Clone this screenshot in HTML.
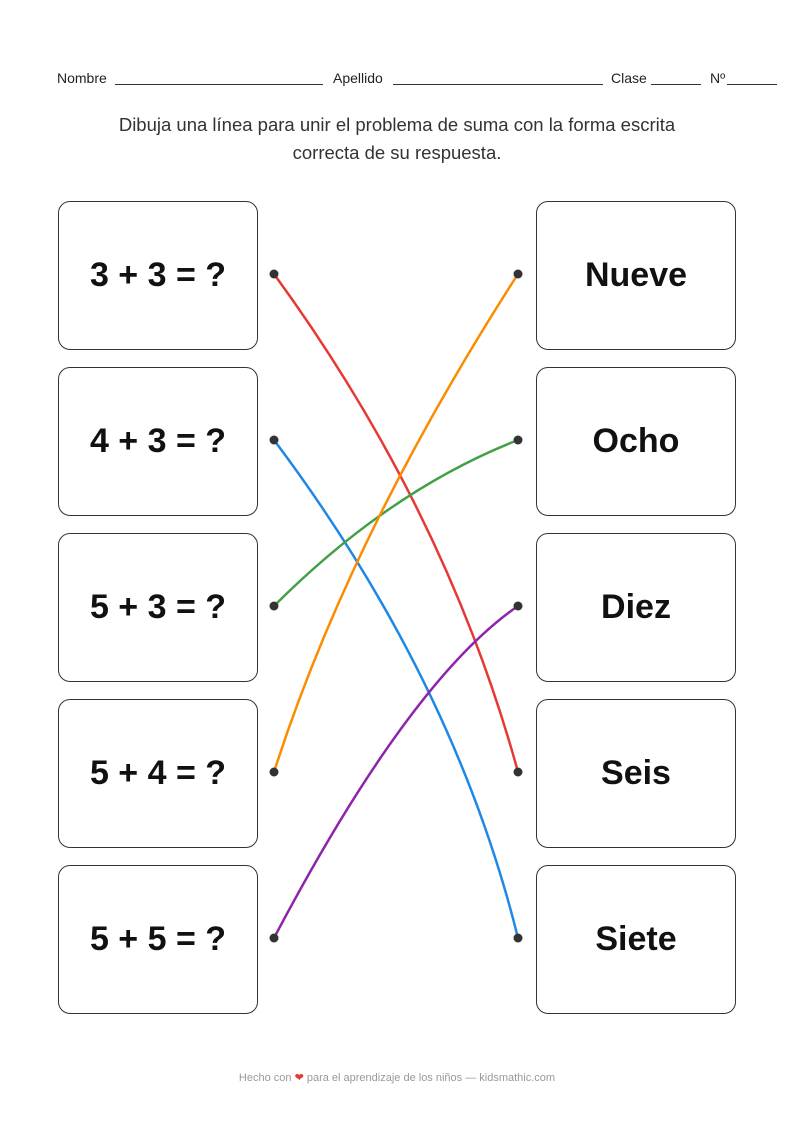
<!DOCTYPE html>
<html><head><meta charset="utf-8"><style>
body{margin:0;width:794px;height:1123px;background:#fff;position:relative;font-family:"Liberation Sans","DejaVu Sans",sans-serif;overflow:hidden}
.t{position:absolute;font-size:14px;color:#222;top:70px}
.ln{position:absolute;border-bottom:1px solid #333;top:84px;height:0}
.ins{position:absolute;top:111px;left:0;width:794px;text-align:center;font-size:18.5px;line-height:28px;color:#333}
.box{position:absolute;width:200px;height:149px;border:1.5px solid #333;border-radius:12px;box-sizing:border-box;display:flex;align-items:center;justify-content:center;font-weight:bold;font-size:34px;color:#111}
.foot{position:absolute;top:1071px;left:0;width:794px;text-align:center;font-size:11px;color:#999}
</style></head><body>
<div class="t" style="left:57px">Nombre</div><div class="ln" style="left:115px;width:208px"></div>
<div class="t" style="left:333px">Apellido</div><div class="ln" style="left:393px;width:210px"></div>
<div class="t" style="left:611px">Clase</div><div class="ln" style="left:651px;width:50px"></div>
<div class="t" style="left:710px">Nº</div><div class="ln" style="left:727px;width:50px"></div>
<div class="ins">Dibuja una línea para unir el problema de suma con la forma escrita<br>correcta de su respuesta.</div>
<div class="box" style="left:58px;top:201px">3 + 3 = ?</div>
<div class="box" style="left:58px;top:367px">4 + 3 = ?</div>
<div class="box" style="left:58px;top:533px">5 + 3 = ?</div>
<div class="box" style="left:58px;top:699px">5 + 4 = ?</div>
<div class="box" style="left:58px;top:865px">5 + 5 = ?</div>
<div class="box" style="left:536px;top:201px">Nueve</div>
<div class="box" style="left:536px;top:367px">Ocho</div>
<div class="box" style="left:536px;top:533px">Diez</div>
<div class="box" style="left:536px;top:699px">Seis</div>
<div class="box" style="left:536px;top:865px">Siete</div>
<svg style="position:absolute;left:0;top:0" width="794" height="1123" fill="none" stroke-width="2.5">
<path d="M274 274 Q446 510 518 772" stroke="#e53935"/>
<path d="M274 440 Q454 680 518 938" stroke="#1e88e5"/>
<path d="M274 606 Q390 490 518 440" stroke="#43a047"/>
<path d="M274 772 Q350 535 518 274" stroke="#fb8c00"/>
<path d="M274 938 Q410 680 518 606" stroke="#8e24aa"/>
<g fill="#333" stroke="none">
<circle cx="274" cy="274" r="4.5"/><circle cx="274" cy="440" r="4.5"/><circle cx="274" cy="606" r="4.5"/><circle cx="274" cy="772" r="4.5"/><circle cx="274" cy="938" r="4.5"/>
<circle cx="518" cy="274" r="4.5"/><circle cx="518" cy="440" r="4.5"/><circle cx="518" cy="606" r="4.5"/><circle cx="518" cy="772" r="4.5"/><circle cx="518" cy="938" r="4.5"/>
</g></svg>
<div class="foot">Hecho con <span style="color:#e53935">❤</span> para el aprendizaje de los niños — kidsmathic.com</div>
</body></html>
